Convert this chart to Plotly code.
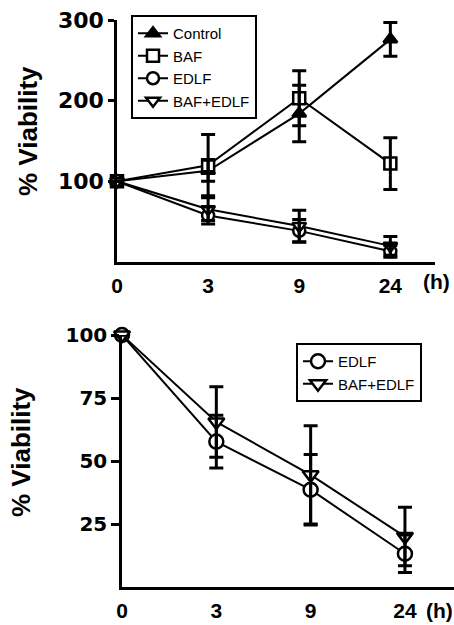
import plotly.graph_objects as go

# Time points (hours) and viability (% of t=0) with error bars
hours = ["0", "3", "9", "24"]

control = [100, 113, 184, 276]
control_err = [0, 13, 35, 21]

baf = [100, 120, 203, 122]
baf_err = [0, 38, 34, 32]

edlf = [100, 57.7, 38.6, 13.2]
edlf_err = [0, 10.5, 14, 7.4]

baf_edlf = [100, 65.5, 44.5, 20]
baf_edlf_err = [0, 14, 19.5, 11.6]

top_yticks = [100, 200, 300]
bottom_yticks = [25, 50, 75, 100]

W, H = 454, 625
FONT = "Liberation Sans"
pos = list(range(len(hours)))


def px_x(p):
    return p / W


def px_y(p):
    return 1 - p / H


series_top = [
    ("Control", control, control_err, "triangle-up", "black"),
    ("BAF", baf, baf_err, "square", "white"),
    ("EDLF", edlf, edlf_err, "circle", "white"),
    ("BAF+EDLF", baf_edlf, baf_edlf_err, "triangle-down", "white"),
]
series_bottom = [
    ("EDLF", edlf, edlf_err, "circle", "white"),
    ("BAF+EDLF", baf_edlf, baf_edlf_err, "triangle-down", "white"),
]

fig = go.Figure()


def add_panel(series, xa, ya, legend, msize, lw):
    # lines + markers
    for name, vals, err, sym, fill in series:
        fig.add_trace(go.Scatter(
            x=pos, y=vals, name=name, mode="lines+markers",
            xaxis=xa, yaxis=ya, legend=legend,
            line=dict(color="black", width=lw),
            marker=dict(symbol=sym, size=msize, color=fill,
                        line=dict(color="black", width=2.5)),
            cliponaxis=False,
        ))
    # error bars drawn on top of the markers
    for name, vals, err, sym, fill in series:
        e = [v if v > 0 else None for v in err]
        fig.add_trace(go.Scatter(
            x=pos, y=vals, mode="markers", showlegend=False,
            xaxis=xa, yaxis=ya, hoverinfo="skip",
            marker=dict(size=1, opacity=0),
            error_y=dict(type="data", array=e, symmetric=True,
                         color="black", thickness=3, width=7),
            cliponaxis=False,
        ))


add_panel(series_top, "x", "y", "legend", 12, 2)
add_panel(series_bottom, "x2", "y2", "legend2", 14, 2)

axis_common = dict(showline=True, linecolor="black", linewidth=2.5,
                   showgrid=False, zeroline=False, mirror=False)

legend_common = dict(xanchor="left", yanchor="top",
                     bordercolor="black", borderwidth=2, bgcolor="white",
                     font=dict(family=FONT, size=15), tracegroupgap=0,
                     itemwidth=30)


def label(text, x, y, size, angle=0):
    return dict(text=text, textangle=angle, x=px_x(x), y=px_y(y),
                xref="paper", yref="paper", xanchor="center",
                yanchor="middle", showarrow=False,
                font=dict(family=FONT, size=size, weight="bold"))


fig.update_layout(
    width=W, height=H,
    margin=dict(l=0, r=0, t=0, b=0, autoexpand=False),
    paper_bgcolor="white", plot_bgcolor="white",
    font=dict(family=FONT, color="black"),
    xaxis=dict(domain=[px_x(117), px_x(435)], range=[0, 3.49],
               anchor="y", tickvals=pos, ticktext=hours, ticks="",
               ticklabelstandoff=3,
               tickfont=dict(family=FONT, size=21, weight="bold"),
               **axis_common),
    yaxis=dict(domain=[px_y(262), px_y(20)], range=[0, 300],
               anchor="x", tickvals=top_yticks, ticks="outside",
               ticklen=6, tickwidth=2.5, tickcolor="black",
               tickfont=dict(family="DejaVu Sans", size=22, weight="bold"),
               **axis_common),
    xaxis2=dict(domain=[px_x(122), 1.0], range=[0, 3.52],
                anchor="y2", tickvals=pos, ticktext=hours, ticks="",
                ticklabelstandoff=3,
                tickfont=dict(family=FONT, size=21, weight="bold"),
                **axis_common),
    yaxis2=dict(domain=[px_y(587), px_y(335)], range=[0, 100],
                anchor="x2", tickvals=bottom_yticks, ticks="outside",
                ticklen=8, tickwidth=2.5, tickcolor="black",
                tickfont=dict(family="DejaVu Sans", size=20, weight="bold"),
                **axis_common),
    legend=dict(x=px_x(131), y=px_y(15), **legend_common),
    legend2=dict(x=px_x(296), y=px_y(343), **legend_common),
    annotations=[
        label("% Viability", 28, 131, 26, -90),
        label("% Viability", 21, 452, 26, -90),
        label("(h)", 436, 281, 21),
        label("(h)", 439, 610, 21),
    ],
)

fig.write_html("out.html")
